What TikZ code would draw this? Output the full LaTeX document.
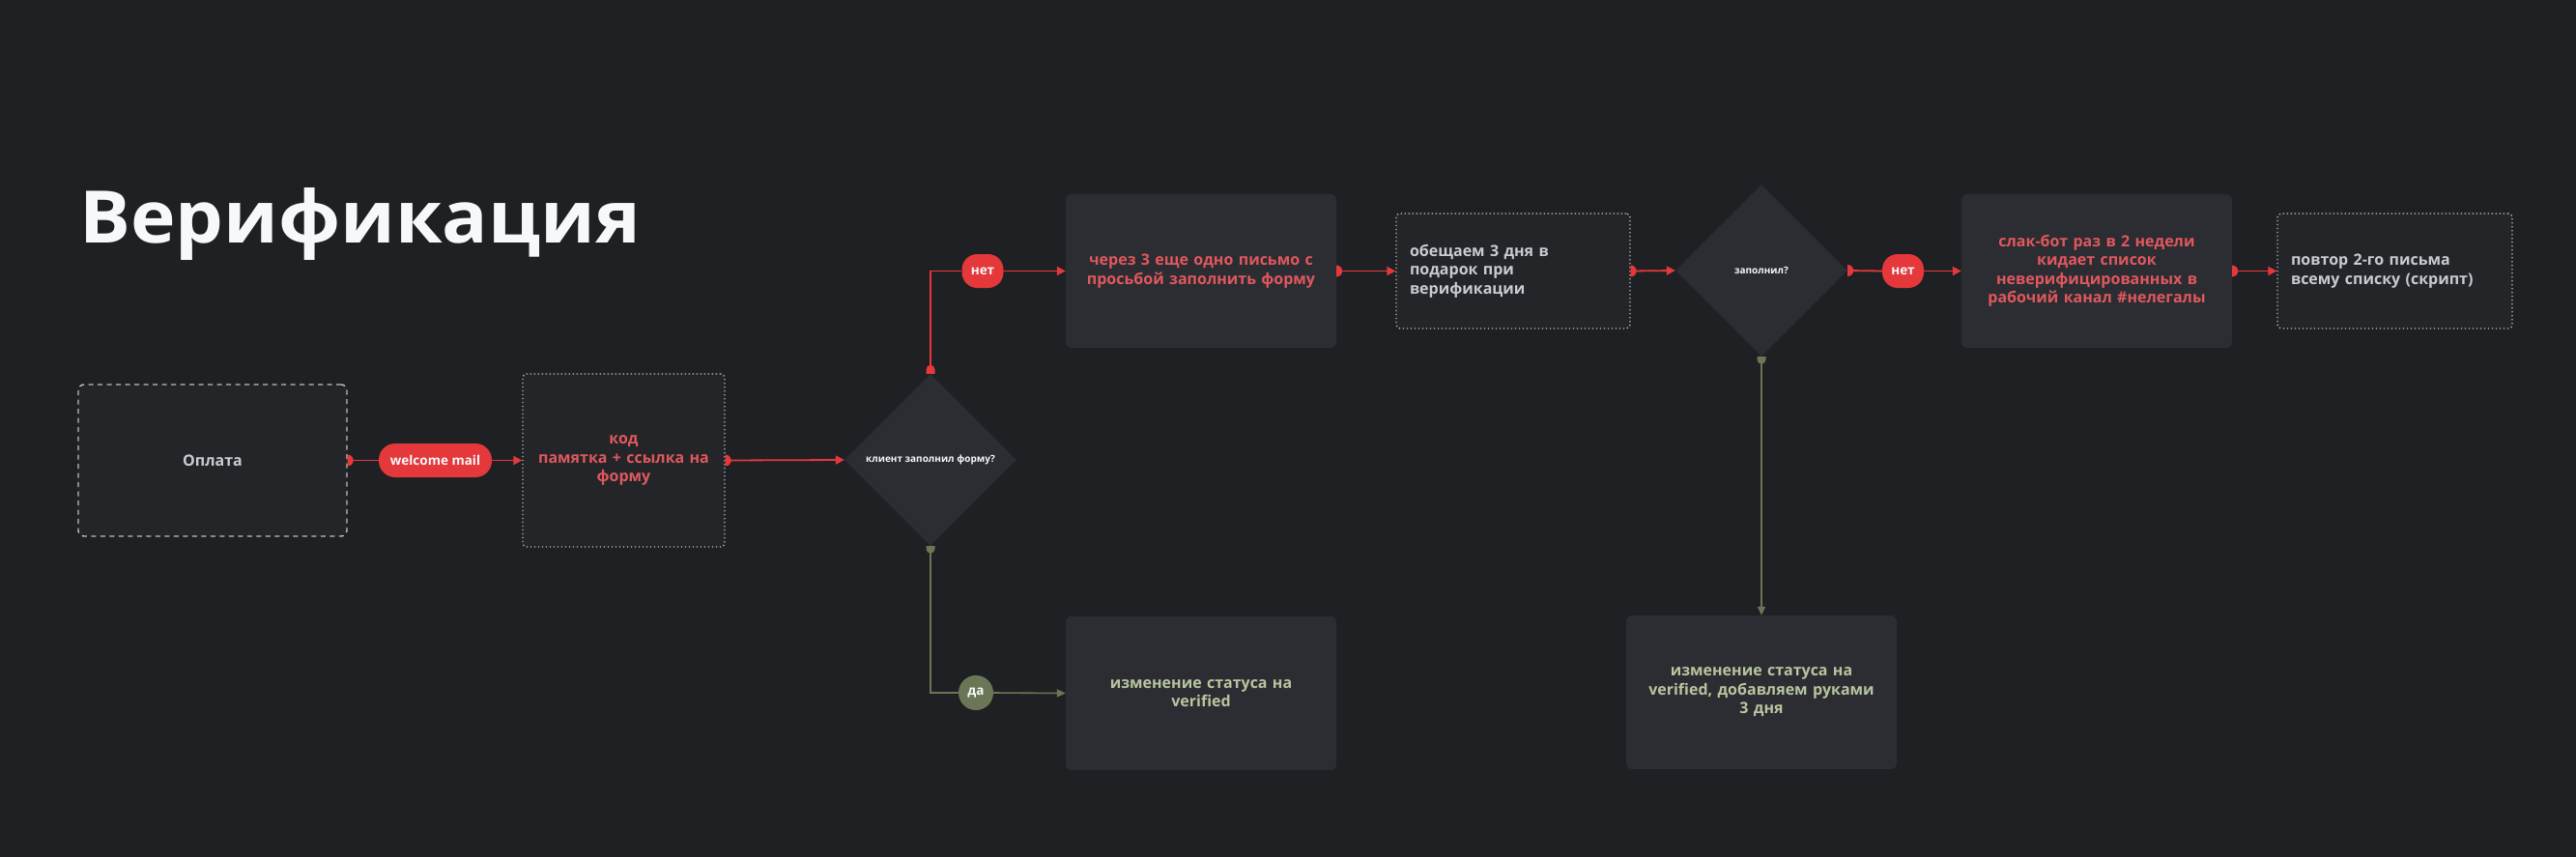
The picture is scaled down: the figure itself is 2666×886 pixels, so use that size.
\documentclass[tikz,border=0pt]{standalone}
\usepackage{fontspec}
\setmainfont{Open Sans}
\usetikzlibrary{shapes.geometric,arrows.meta}
\definecolor{bg}{HTML}{1F2024}
\definecolor{boxc}{HTML}{2B2D32}
\definecolor{boxd}{HTML}{232528}
\definecolor{redf}{HTML}{E5383B}
\definecolor{redt}{HTML}{E0585E}
\definecolor{grayt}{HTML}{C8CBD0}
\definecolor{greenl}{HTML}{6B7656}
\definecolor{greent}{HTML}{B7C59F}
\definecolor{whitet}{HTML}{F7F8FB}
\definecolor{dashc}{HTML}{BDBEC2}
\begin{document}
\begin{tikzpicture}[x=1pt,y=-1pt,
  txt/.style={font=\bfseries\fontsize{16}{19.5}\selectfont},
  fillbox/.style={txt, fill=boxc, rounded corners=6pt, minimum width=280pt, minimum height=159pt, inner sep=0pt, text width=260pt, align=center},
  dotbox/.style={txt, fill=boxd, draw=dashc, line width=1.3pt, dash pattern=on 1.3pt off 2.7pt, rounded corners=4pt, inner sep=0pt, align=left},
  diam/.style={diamond, aspect=1, fill=boxc, minimum width=178pt, minimum height=178pt, inner sep=0pt, text=whitet, font=\bfseries\fontsize{10}{12}\selectfont},
  pill/.style={fill=redf, text=whitet, font=\bfseries\fontsize{13.5}{16}\selectfont, minimum height=35pt, inner sep=0pt},
  rl/.style={draw=redf, line width=1.8pt},
  gl/.style={draw=greenl, line width=1.6pt},
  tip/.style={-{Triangle[length=9pt,width=9pt]}},
  gtip/.style={-{Triangle[length=9pt,width=8pt]}}
]
\useasboundingbox (0,0) rectangle (2666,886);
\fill[bg] (-10,-10) rectangle (2676,896);

% title
\node[anchor=base west, inner sep=0pt, text=whitet, font=\bfseries\fontsize{75}{80}\selectfont] (title) at (82,251) {\scalebox{1.05}[1]{Верификация}};

% nodes
\node[txt, fill=boxd, draw=dashc, line width=1.4pt, dash pattern=on 5pt off 4.5pt, rounded corners=6pt, minimum width=278pt, minimum height=157pt, text=grayt, inner sep=0pt] (pay) at (220,476.5) {Оплата};
\node[pill, minimum width=117pt, rounded corners=17pt] (wm) at (450.5,476.5) {welcome mail};
\node[dotbox, minimum width=209pt, minimum height=179pt, text width=200pt, align=center, text=redt] (code) at (645.5,476.5) {код\\памятка + ссылка на\\форму};
\node[diam] (d1) at (963,476) {клиент заполнил форму?};
\node[pill, minimum width=43pt, rounded corners=16pt] (net1) at (1017,280.5) {нет};
\node[fillbox, text=redt] (via3) at (1243,280.5) {через 3 еще одно письмо с\\просьбой заполнить форму};
\node[dotbox, minimum width=242pt, minimum height=119pt, text width=214pt, text=grayt] (prom) at (1566,280.5) {обещаем 3 дня в\\подарок при\\верификации};
\node[diam] (d2) at (1823,280) {заполнил?};
\node[pill, minimum width=43pt, rounded corners=16pt] (net2) at (1969.5,280.5) {нет};
\node[fillbox, text=redt] (slack) at (2170,280.5) {слак-бот раз в 2 недели\\кидает список\\неверифицированных в\\рабочий канал \#нелегалы};
\node[dotbox, minimum width=243pt, minimum height=119pt, text width=215pt, text=grayt] (rep) at (2478.5,280.5) {повтор 2-го письма\\всему списку (скрипт)};
\node[circle, fill=greenl, minimum size=36pt, inner sep=0pt, text=whitet, font=\bfseries\fontsize{13.5}{16}\selectfont] (yes) at (1010,717) {да};
\node[fillbox, text=greent] (ver1) at (1243,717.5) {изменение статуса на\\verified};
\node[fillbox, text=greent] (ver2) at (1823,716.5) {изменение статуса на\\verified, добавляем руками\\3 дня};

% red connectors
\draw[rl] (pay.east) -- (wm.west);
\draw[rl,tip] (wm.east) -- (code.west);
\draw[rl,tip] (code.east) -- (d1.west);
\draw[rl] (d1.north) |- (net1.west);
\draw[rl,tip] (net1.east) -- (via3.west);
\draw[rl,tip] (via3.east) -- (prom.west);
\draw[rl,tip] (prom.east) -- (d2.west);
\draw[rl] (d2.east) -- (net2.west);
\draw[rl,tip] (net2.east) -- (slack.west);
\draw[rl,tip] (slack.east) -- (rep.west);
% green connectors
\draw[gl] (d1.south) |- (yes.west);
\draw[gl,gtip] (yes.east) -- (ver1.west);
\draw[gl,gtip] (d2.south) -- (ver2.north);

% start markers (half discs)
\foreach \n in {pay,code,via3,prom,d2,slack}{
  \fill[redf] (\n.east) ++(0,-6) arc[start angle=90,end angle=-90,radius=6pt] -- cycle;
}
\fill[redf] (d1.north) ++(-4.5,0) -- ++(0,-4.5) arc[start angle=180,end angle=0,radius=4.5pt] -- ++(0,4.5) -- cycle;
\foreach \n in {d1,d2}{
  \fill[greenl] (\n.south) ++(-4.5,0) -- ++(0,3) arc[start angle=180,end angle=360,radius=4.5pt] -- ++(0,-3) -- cycle;
}
\end{tikzpicture}
\end{document}
